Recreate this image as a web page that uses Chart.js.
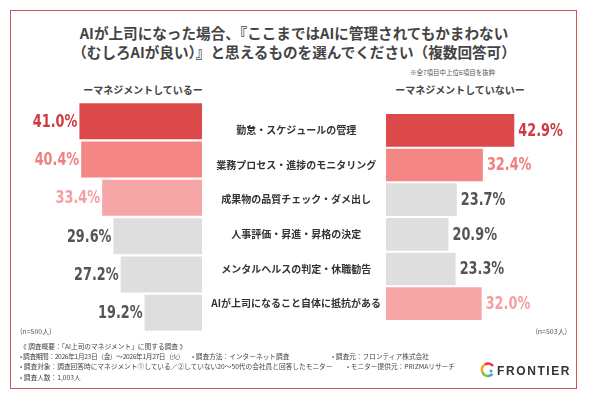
<!DOCTYPE html>
<html>
<head>
<meta charset="utf-8">
<script src="https://cdn.jsdelivr.net/npm/chart.js@4"></script>
<style>
  body { margin: 0; background: #fff; font-family: "Noto Sans CJK JP", sans-serif; }
  #page { position: relative; width: 590px; height: 395px; overflow: hidden; }
  .frame { position: absolute; left: 10px; top: 10px; width: 565px; height: 377px; border: 1.5px solid #c9585b; }
  .title { position: absolute; left: 0; width: 588px; text-align: center; font-size: 14.6px; font-weight: bold; line-height: 20px; height: 20px; color: #444; white-space: nowrap; }
  .note { position: absolute; left: 410px; top: 67px; font-size: 6.5px; color: #555; white-space: nowrap; }
  .head { position: absolute; top: 82px; font-size: 10px; font-weight: bold; color: #444; white-space: nowrap; transform: translateX(-50%); }
  .n { position: absolute; top: 326px; font-size: 7px; color: #555; white-space: nowrap; }
  .foot { position: absolute; font-size: 6.7px; color: #444; white-space: nowrap; line-height: 10px; }
  canvas { position: absolute; }
  .logo { position: absolute; left: 480px; top: 362px; }
  .logotext { position: absolute; left: 497px; top: 364px; font-family: "Liberation Sans", sans-serif; font-weight: bold; font-size: 12px; letter-spacing: 1.6px; color: #333; }
</style>
</head>
<body>
<div id="page">
  <div class="frame"></div>
  <div class="title" style="top:23px">AIが上司になった場合、『ここまではAIに管理されてもかまわない</div>
  <div class="title" style="top:42px">（むしろAIが良い）』と思えるものを選んでください（複数回答可）</div>
  <div class="note">※全7項目中上位6項目を抜粋</div>
  <div class="head" style="left:143px">ーマネジメントしているー</div>
  <div class="head" style="left:460px">ーマネジメントしていないー</div>

  <canvas id="left" width="202" height="230" style="left:0;top:102px"></canvas>
  <canvas id="right" width="388" height="230" style="left:202px;top:102px"></canvas>

  <div class="n" style="left:20px">(n=500人)</div>
  <div class="n" style="right:23px">(n=503人)</div>

  <div class="foot" style="left:20px;top:341px">《 調査概要：「AI上司のマネジメント」に関する調査 》</div>
  <div class="foot" style="left:20px;top:351px;letter-spacing:-0.35px">• 調査期間：2026年1月23日（金）～2026年1月27日（火）</div>
  <div class="foot" style="left:192px;top:351px">• 調査方法：インターネット調査</div>
  <div class="foot" style="left:332px;top:351px">• 調査元：フロンティア株式会社</div>
  <div class="foot" style="left:20px;top:361px">• 調査対象：調査回答時にマネジメント①している／②していない20～50代の会社員と回答したモニター</div>
  <div class="foot" style="left:347px;top:361px">• モニター提供元：PRIZMAリサーチ</div>
  <div class="foot" style="left:20px;top:372px">• 調査人数：1,003人</div>

  <svg class="logo" width="16" height="16" viewBox="0 0 16 16">
    <path d="M13 4 A6 6 0 0 0 5 2.5" fill="none" stroke="#e8383d" stroke-width="2.6"/>
    <path d="M5 2.5 A6 6 0 0 0 2.3 10" fill="none" stroke="#f5a623" stroke-width="2.6"/>
    <path d="M2.3 10 A6 6 0 0 0 9 13.9" fill="none" stroke="#7cc242" stroke-width="2.6"/>
    <path d="M9 13.9 A6 6 0 0 0 12.5 12" fill="none" stroke="#2ea7e0" stroke-width="2.6"/>
    <circle cx="11" cy="9" r="1.5" fill="#2ea7e0"/>
  </svg>
  <div class="logotext">FRONTIER</div>
</div>

<script>
// 項目
const items = [
  "勤怠・スケジュールの管理",
  "業務プロセス・進捗のモニタリング",
  "成果物の品質チェック・ダメ出し",
  "人事評価・昇進・昇格の決定",
  "メンタルヘルスの判定・休職勧告",
  "AIが上司になること自体に抵抗がある"
];
// マネジメントしている (n=500)
const managing = [41.0, 40.4, 33.4, 29.6, 27.2, 19.2];
// マネジメントしていない (n=503)
const notManaging = [42.9, 32.4, 23.7, 20.9, 23.3, 32.0];

const RED = "#db494b", SALMON = "#f48685", PINK = "#f6a6a6", GRAY = "#dedede";
const leftBarColors = [RED, SALMON, PINK, GRAY, GRAY, GRAY];
const rightBarColors = [RED, SALMON, GRAY, GRAY, GRAY, PINK];
const textColor = c => ({ [RED]: "#cc3b40", [SALMON]: "#f07f80", [PINK]: "#f4a0a0", [GRAY]: "#555" }[c]);

// 数値ラベル（細めに見せるため横方向を縮める）
const valueLabels = {
  id: "valueLabels",
  afterDatasetsDraw(chart, args, opts) {
    const ctx = chart.ctx;
    const meta = chart.getDatasetMeta(0);
    const ds = chart.data.datasets[0];
    meta.data.forEach((bar, i) => {
      ctx.save();
      ctx.font = 'bold 17px "DejaVu Sans Condensed", "DejaVu Sans", sans-serif';
      ctx.textBaseline = "middle";
      ctx.textAlign = opts.side === "left" ? "right" : "left";
      ctx.fillStyle = textColor(ds.backgroundColor[i]);
      ctx.translate(opts.side === "left" ? bar.x - 2 : bar.x + 4, bar.y + 1);
      ctx.scale(0.84, 1);
      ctx.fillText(ds.data[i].toFixed(1) + "%", 0, 0);
      ctx.restore();
    });
  }
};

const common = {
  indexAxis: "y",
  responsive: false,
  animation: false,
  devicePixelRatio: 1,
  events: []
};

new Chart(document.getElementById("left"), {
  type: "bar",
  data: {
    labels: items,
    datasets: [{ data: managing, backgroundColor: leftBarColors, barPercentage: 0.94, categoryPercentage: 1 }]
  },
  options: {
    ...common,
    layout: { padding: { left: 52.5 } },
    scales: {
      x: { min: 0, max: 50, reverse: true, display: false },
      y: { display: false }
    },
    plugins: { legend: { display: false }, tooltip: { enabled: false }, valueLabels: { side: "left" } }
  },
  plugins: [valueLabels]
});

new Chart(document.getElementById("right"), {
  type: "bar",
  data: {
    labels: items,
    datasets: [{ data: notManaging, backgroundColor: rightBarColors, barPercentage: 0.94, categoryPercentage: 1 }]
  },
  options: {
    ...common,
    layout: { padding: { right: 54.5 } },
    scales: {
      x: { min: 0, max: 50, display: false },
      y: {
        afterFit: s => { s.width = 184; },
        grid: { display: false, drawTicks: false },
        border: { display: false },
        ticks: {
          crossAlign: "center",
          padding: 5,
          color: "#333",
          font: { family: '"Noto Sans CJK JP"', size: 10, weight: "bold" }
        }
      }
    },
    plugins: { legend: { display: false }, tooltip: { enabled: false }, valueLabels: { side: "right" } }
  },
  plugins: [valueLabels]
});
</script>
</body>
</html>
